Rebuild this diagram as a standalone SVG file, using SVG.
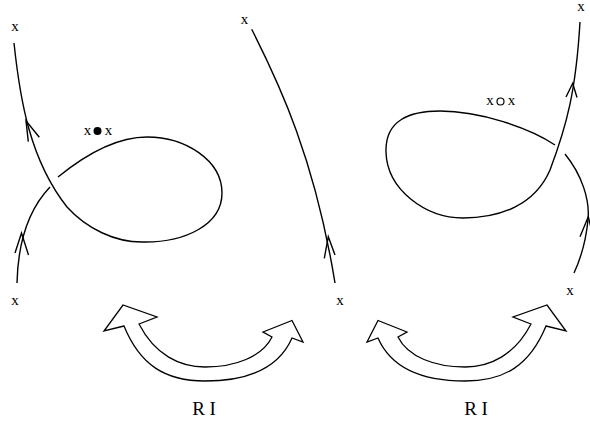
<svg xmlns="http://www.w3.org/2000/svg" width="590" height="423" viewBox="0 0 590 423">
<style>
.s{fill:none;stroke:#000;stroke-width:1.4;stroke-linecap:butt;stroke-linejoin:miter}
.a{fill:#fff;stroke:#000;stroke-width:1.3;stroke-linejoin:miter}
text{font-family:"Liberation Serif","Times New Roman",serif;font-size:15px;fill:#000}
.big{font-size:19px}
</style>
<defs>
<path id="dbl" class="a" d="M124,326 L104,331 L123,305 L157,317 L139,324 C155,355 180,367 205,367 C235,367 262,357 272,337 L263,332 L292,320.5 L303,342 L292,338 C278,370 245,381 205,381 C165,381 140,365 124,326 Z"/>
</defs>
<g id="connectors">
<g id="left-knot">
<path class="s" d="M14,43 C20,100 30,160 67,207 C86,228 115,243 145,242 C185,242 222,225 222,193 C222,160 185,137 147,137 C115,137 85,155 58,177"/>
<path class="s" d="M50,187 C30,208 18,240 17,283"/>
<polyline class="s" points="15,253 21.5,233 28.5,255"/>
<polyline class="s" points="28.3,141.7 26,120.7 39.3,137.3"/>
</g>
<g id="middle-strand">
<path class="s" d="M251.7,29.3 C280,85 315,160 335,283"/>
<polyline class="s" points="324.3,258.3 328.3,236.7 335,255"/>
</g>
<g id="right-knot">
<path class="s" d="M580,22 C576,90 567,125 550,170 C535,205 500,218 463,218 C426,218 387,190 386,152 C385,120 410,111 440,111 C480,111 530,128 555,145"/>
<path class="s" d="M565,154 C582,175 590,200 588,220 C586,240 581,258 574,273"/>
<polyline class="s" points="566,97 572.7,83.3 577,97.5"/>
<polyline class="s" points="580,236.7 588.3,216.7 593,236"/>
</g>
<g id="move-arrows">
<use href="#dbl"/>
<use href="#dbl" transform="translate(670,0) scale(-1,1)"/>
</g>
</g>
<g id="labels">
<g id="n-left-top"><text x="15" y="31" text-anchor="middle">x</text></g>
<g id="n-left-bottom"><text x="15" y="305" text-anchor="middle">x</text></g>
<g id="n-left-mark"><text x="87.5" y="135" text-anchor="middle">x</text><circle cx="97.5" cy="131" r="4" fill="#000"/><text x="108.5" y="135" text-anchor="middle">x</text></g>
<g id="n-mid-top"><text x="244.5" y="24" text-anchor="middle">x</text></g>
<g id="n-mid-bottom"><text x="340" y="305" text-anchor="middle">x</text></g>
<g id="n-right-top"><text x="581" y="11" text-anchor="middle">x</text></g>
<g id="n-right-mark"><text x="490" y="105" text-anchor="middle">x</text><circle cx="500.5" cy="101.5" r="3.5" fill="none" stroke="#000" stroke-width="1.2"/><text x="511.5" y="105" text-anchor="middle">x</text></g>
<g id="n-right-bottom"><text x="570" y="295" text-anchor="middle">x</text></g>
<g id="n-ri-left"><text class="big" x="204" y="415" text-anchor="middle">R I</text></g>
<g id="n-ri-right"><text class="big" x="476" y="415" text-anchor="middle">R I</text></g>
</g>
</svg>
